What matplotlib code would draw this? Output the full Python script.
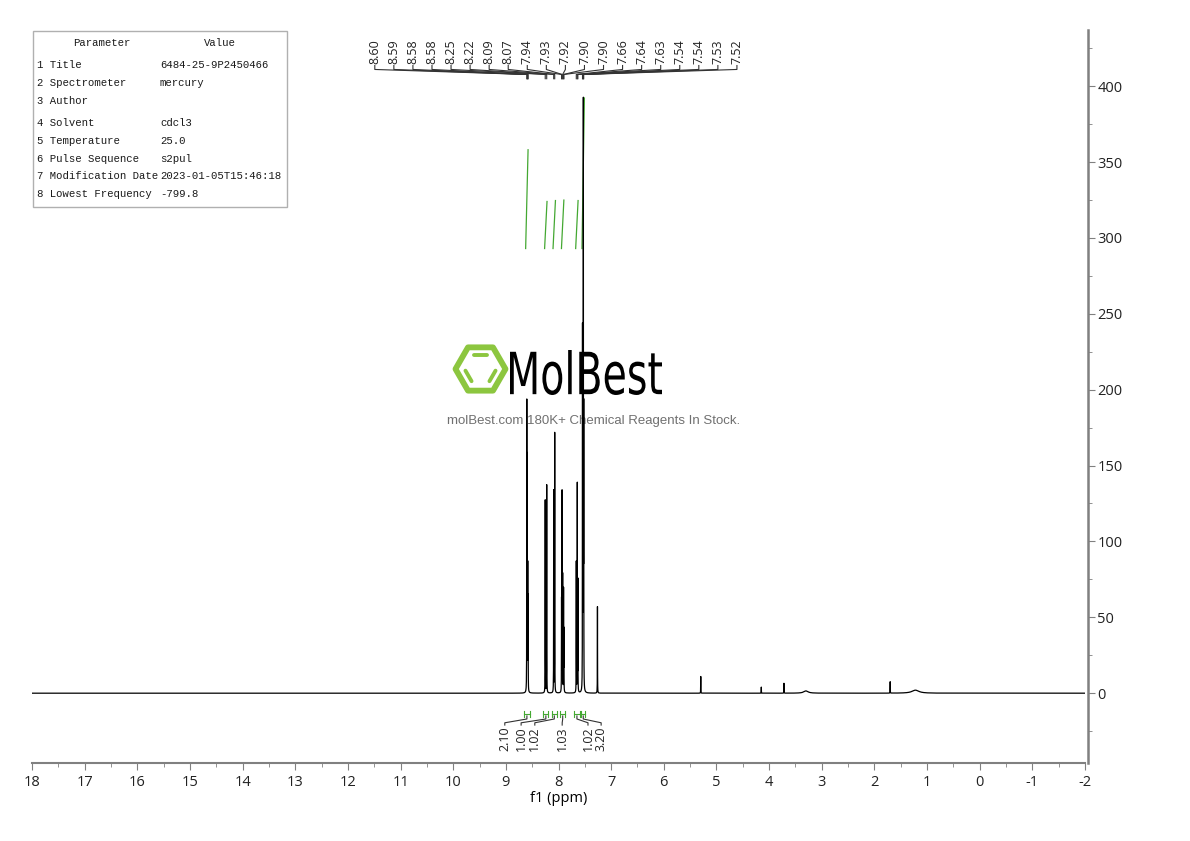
import numpy as np
import matplotlib
matplotlib.use("Agg")
import matplotlib.pyplot as plt
from matplotlib.ticker import MultipleLocator
from matplotlib.patches import Rectangle, Polygon, PathPatch
from matplotlib.textpath import TextPath
from matplotlib.font_manager import FontProperties
from matplotlib.transforms import Affine2D

plt.rcParams['axes.unicode_minus'] = False
plt.rcParams['font.family'] = ['Open Sans', 'DejaVu Sans']

# labelled peaks (ppm) and heights
peak_shifts = [8.602, 8.594, 8.584, 8.577, 8.252, 8.224, 8.091, 8.072, 7.942, 7.932,
               7.921, 7.904, 7.897, 7.662, 7.643, 7.632, 7.544, 7.536, 7.528, 7.521]
peak_heights = [188, 150, 80, 60, 127, 137, 133, 171, 60, 131,
                76, 67, 40, 86, 137, 73, 235, 145, 378, 175]

# other sharp peaks (solvent, impurities)
extra_shifts = [7.260, 5.298, 4.148, 3.718, 1.700]
extra_heights = [57, 11, 4, 6.5, 7.5]

# broad humps
hump_shifts = [3.30, 1.22]
hump_heights = [1.5, 2.0]
hump_widths = [0.05, 0.08]

# integrals
int_regions = [(8.66, 8.54), (8.29, 8.19), (8.13, 8.03), (7.97, 7.87), (7.70, 7.60), (7.57, 7.49)]
int_values = [2.10, 1.00, 1.02, 1.03, 1.02, 3.20]
int_label_x = [9.02, 8.71, 8.45, 7.93, 7.44, 7.19]

# parameter table
param_names = ["1 Title", "2 Spectrometer", "3 Author", "4 Solvent", "5 Temperature",
               "6 Pulse Sequence", "7 Modification Date", "8 Lowest Frequency"]
param_values = ["6484-25-9P2450466", "mercury", "", "cdcl3", "25.0",
                "s2pul", "2023-01-05T15:46:18", "-799.8"]

# build spectrum from peak list
x = np.linspace(-2, 18, 60001)
y = np.zeros_like(x)
w = 0.0015
for p, h in zip(peak_shifts + extra_shifts, peak_heights + extra_heights):
    y += h / (1 + ((x - p) / w) ** 2)
for p, h, hw in zip(hump_shifts, hump_heights, hump_widths):
    y += h / (1 + ((x - p) / hw) ** 2)

fig = plt.figure(figsize=(11.9, 8.41), dpi=100)

# background layer in pixel coordinates (table + watermark)
bg = fig.add_axes([0, 0, 1, 1], zorder=0)
bg.set_xlim(0, 1190)
bg.set_ylim(841, 0)
bg.axis('off')

bg.add_patch(Rectangle((33, 31), 254, 176, fill=False, edgecolor='#b0b0b0', lw=1))
tfont = dict(family='Liberation Mono', fontsize=7.7, color='#1a1a1a', va='center')
bg.text(102, 43, "Parameter", ha='center', **tfont)
bg.text(220, 43, "Value", ha='center', **tfont)
row_y = [65, 83, 101, 123, 141, 159, 176, 194]
for ry, n, v in zip(row_y, param_names, param_values):
    bg.text(37, ry, n, ha='left', **tfont)
    bg.text(160, ry, v, ha='left', **tfont)

# logo hexagon
green_logo = '#8cc63f'
cx, cy, r = 480.5, 369, 25
hexv = [(cx + r * np.cos(a), cy + r * np.sin(a)) for a in np.radians(np.arange(0, 360, 60))]
bg.add_patch(Polygon(hexv, closed=True, fill=False, edgecolor=green_logo, lw=4.2, joinstyle='round'))
ri = 16
inner = [(cx + ri * np.cos(a), cy + ri * np.sin(a)) for a in np.radians(np.arange(0, 360, 60))]
for i0, i1 in [(4, 5), (0, 1), (2, 3)]:
    (xa, ya), (xb, yb) = inner[i0], inner[i1]
    bg.plot([xa + (xb - xa) * 0.12, xa + (xb - xa) * 0.88], [ya + (yb - ya) * 0.12, ya + (yb - ya) * 0.88],
            color=green_logo, lw=2.8, solid_capstyle='round')

tp = TextPath((0, 0), "MolBest", size=1, prop=FontProperties(family='DejaVu Sans'))
ext = tp.get_extents()
tr = Affine2D().translate(-ext.x0, -ext.y0).scale(152 / ext.width, -45 / ext.height).translate(510, 395)
bg.add_patch(PathPatch(tp, transform=tr + bg.transData, facecolor='black', edgecolor='none'))
bg.text(594, 421, "molBest.com 180K+ Chemical Reagents In Stock.", ha='center', va='center',
        fontsize=9.5, color='#707070', family='Liberation Sans')

# main spectrum axes
ax = fig.add_axes([32 / 1190, 78 / 841, 1053 / 1190, 733 / 841], zorder=1)
ax.patch.set_visible(False)
ax.set_xlim(18, -2)
ax.set_ylim(-46, 437)

for s in ['top', 'left']:
    ax.spines[s].set_visible(False)
ax.spines['bottom'].set_color('#808080')
ax.spines['bottom'].set_linewidth(1.5)
ax.spines['right'].set_color('#808080')
ax.spines['right'].set_linewidth(1.8)
ax.spines['right'].set_position(('outward', 2))

ax.xaxis.set_major_locator(MultipleLocator(1))
ax.xaxis.set_minor_locator(MultipleLocator(0.5))
ax.yaxis.tick_right()
ax.yaxis.set_major_locator(MultipleLocator(50))
ax.yaxis.set_minor_locator(MultipleLocator(25))
ax.tick_params(axis='both', which='major', length=5, color='#808080', labelsize=10.5, labelcolor='#222222')
ax.tick_params(axis='both', which='minor', length=3, color='#808080')
ax.tick_params(axis='x', pad=4)
ax.tick_params(axis='y', pad=2)
ax.set_xlabel("f1 (ppm)", fontsize=10.5, labelpad=0)

# peak labels on top
n = len(peak_shifts)
lab_x = 8.05 + (np.arange(n)[::-1] - (n - 1) / 2) * 0.362
for lx, p in zip(lab_x, peak_shifts):
    ax.plot([lx, lx, p, p], [413.6, 411, 407.7, 404.9], color='#333333', lw=0.8)
    ax.text(lx, 414.3, f"{p:.2f}", rotation=90, ha='center', va='bottom', fontsize=9, color='#222222')

# integrals
green = '#44a832'
base, k = 293, 31
for (a, b), v, lx in zip(int_regions, int_values, int_label_x):
    c = (a + b) / 2
    ax.plot([c + 0.024, c - 0.022], [base, base + v * k], color=green, lw=0.9)
    ax.plot([a, b], [-14, -14], color=green, lw=0.8)
    ax.plot([a, a], [-12, -16], color=green, lw=0.8)
    ax.plot([b, b], [-12, -16], color=green, lw=0.8)
    ax.plot([c, c, lx, lx], [-15, -17, -19.5, -21], color='#333333', lw=0.8)
    ax.text(lx, -22, f"{v:.2f}", rotation=90, ha='center', va='top', fontsize=9, color='#222222')

# spectrum drawn over the integral curves
ax.plot(x, y, color='black', lw=0.9)

fig.savefig("out.png", dpi=100)
